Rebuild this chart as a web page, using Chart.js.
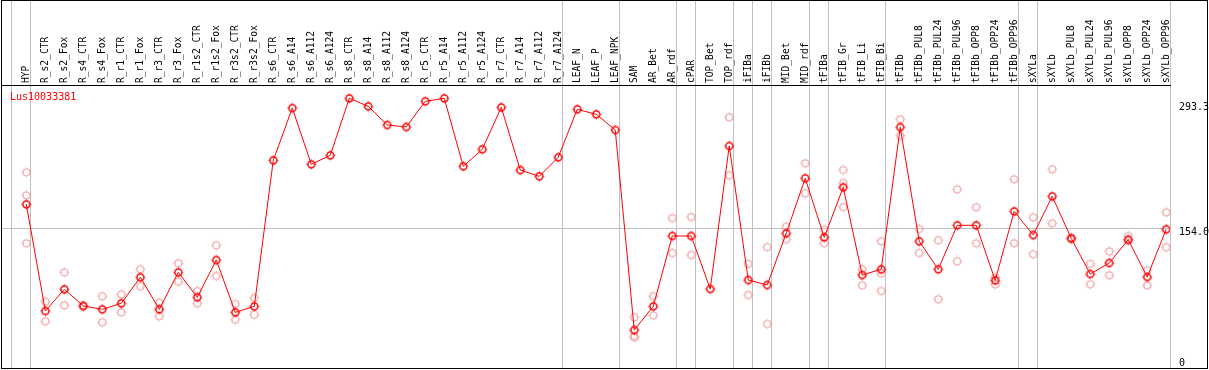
<!DOCTYPE html>
<html><head><meta charset="utf-8">
<script src="https://cdn.jsdelivr.net/npm/chart.js@4.4.1/dist/chart.umd.min.js"></script>
<style>
html,body{margin:0;padding:0;background:#fff;overflow:hidden}
#wrap{position:relative;width:1209px;height:370px}
#frame{position:absolute;left:1px;top:0;width:1205px;height:367px;border:1px solid #000;pointer-events:none}
#gene{position:absolute;left:10px;top:91px;font:10px "DejaVu Sans Mono",monospace;color:#f00}
</style></head><body>
<div id="wrap"><canvas id="c" width="1209" height="370"></canvas><div id="frame"></div><div id="gene">Lus10033381</div></div>
<script>
const categories=["HYP","R_s2_CTR","R_s2_Fox","R_s4_CTR","R_s4_Fox","R_r1_CTR","R_r1_Fox","R_r3_CTR","R_r3_Fox","R_r1s2_CTR","R_r1s2_Fox","R_r3s2_CTR","R_r3s2_Fox","R_s6_CTR","R_s6_A14","R_s6_A112","R_s6_A124","R_s8_CTR","R_s8_A14","R_s8_A112","R_s8_A124","R_r5_CTR","R_r5_A14","R_r5_A112","R_r5_A124","R_r7_CTR","R_r7_A14","R_r7_A112","R_r7_A124","LEAF_N","LEAF_P","LEAF_NPK","SAM","AR_Bet","AR_rdf","cPAR","TOP_Bet","TOP_rdf","iFIBa","iFIBb","MID_Bet","MID_rdf","tFIBa","tFIB_Gr","tFIB_Li","tFIB_Bi","tFIBb","tFIBb_PUL8","tFIBb_PUL24","tFIBb_PUL96","tFIBb_OPP8","tFIBb_OPP24","tFIBb_OPP96","sXYLa","sXYLb","sXYLb_PUL8","sXYLb_PUL24","sXYLb_PUL96","sXYLb_OPP8","sXYLb_OPP24","sXYLb_OPP96"]

// mean expression (red line)
const means=[180.4,61.5,85.7,67.1,63.4,70.1,99.1,63.4,104.6,76.8,118.3,60.0,66.7,229.4,287.7,225.0,235.0,298.5,289.6,268.8,266.6,295.2,298.5,222.8,241.7,288.5,218.6,211.6,232.8,286.3,280.7,263.2,40.3,66.7,145.1,145.1,86.0,245.4,96.0,90.5,148.1,209.4,143.6,199.4,101.6,108.0,266.3,139.2,108.0,157.0,157.0,95.7,172.6,146.2,189.3,142.5,102.7,115.0,141.0,99.4,152.6]

// individual replicates (pale circles)
const rep1=[216.1,71.9,104.6,67.9,77.9,80.1,108.0,70.8,114.7,83.8,134.7,69.3,76.0,null,null,null,null,null,null,null,null,null,null,null,null,null,null,null,null,null,null,null,54.5,77.9,165.1,166.3,null,277.4,113.9,132.8,155.4,226.1,152.1,218.6,108.0,139.2,275.1,152.9,140.3,197.1,177.1,99.1,208.3,165.9,219.4,143.4,113.9,128.0,145.1,106.9,171.5]
const rep2=[190.4,50.0,67.9,66.3,48.9,60.0,89.0,55.6,94.2,70.1,100.5,51.8,57.4,null,null,null,null,null,null,null,null,null,null,null,null,null,null,null,null,null,null,null,33.6,56.7,126.1,123.9,null,212.7,79.3,47.0,141.4,192.7,137.0,204.2,90.1,103.5,256.9,126.1,74.5,116.9,137.0,91.3,137.0,124.7,159.2,141.2,91.3,101.3,139.8,90.1,132.5]
const rep3=[136.9,null,null,null,null,null,null,null,null,null,null,null,null,null,null,null,null,null,null,null,null,null,null,null,null,null,null,null,null,null,null,null,32.2,null,null,null,null,null,null,null,null,null,null,177.4,null,83.8,null,null,null,null,null,null,null,null,null,null,null,null,null,null,null]

// last category of each group (gray separators)
const groupEnds=[-1,0,28,31,34,35,37,38,39,41,42,45,52,53,60]
const yTicks=[293.3,154.0,0]

function marker(color,lw){
 const c=document.createElement("canvas")
 c.width=13;c.height=13
 const g=c.getContext("2d")
 g.strokeStyle=color;g.lineWidth=lw
 g.beginPath();g.arc(6.5,6.5,3.5,0,Math.PI*2);g.stroke()
 g.lineWidth=1
 g.beginPath()
 g.moveTo(6.5,1.6);g.lineTo(6.5,2.6)
 g.moveTo(6.5,10.4);g.lineTo(6.5,11.4)
 g.moveTo(1.6,6.5);g.lineTo(2.6,6.5)
 g.moveTo(10.4,6.5);g.lineTo(11.4,6.5)
 g.stroke()
 return c
}

const toXY=arr=>arr.map((v,i)=>({x:i,y:v}))

const yLabels={
 id:"yLabels",
 afterDraw(chart){
  const {ctx,chartArea,scales:{y}}=chart
  ctx.save()
  ctx.font='10px "DejaVu Sans Mono"'
  ctx.fillStyle="#000"
  ctx.textBaseline="top"
  ctx.textAlign="left"
  yTicks.forEach(v=>{
   const py=Math.min(y.getPixelForValue(v)-1,chartArea.bottom-10)
   ctx.fillText(v===0?"0":v.toFixed(1),chartArea.right+9,py)
  })
  ctx.restore()
 }
}

Chart.defaults.font.family='"DejaVu Sans Mono", monospace'
Chart.defaults.font.size=10
Chart.defaults.color="#000"

const pale="#f0a0a0"
const repSet=(d)=>({data:toXY(d),showLine:false,pointStyle:marker(pale,1.2),pointRadius:4,borderColor:pale,backgroundColor:pale})

new Chart(document.getElementById("c"),{
 type:"line",
 data:{
  datasets:[{
   data:toXY(means),
   borderColor:"#ff0000",
   borderWidth:1,
   tension:0,
   pointStyle:marker("#ff0000",1.5),
   pointRadius:4,
   fill:false
  },repSet(rep1),repSet(rep2),repSet(rep3)]
 },
 options:{
  responsive:false,
  animation:false,
  devicePixelRatio:1,
  layout:{autoPadding:false,padding:{left:2,right:39,top:0,bottom:2}},
  plugins:{legend:{display:false},tooltip:{enabled:false}},
  scales:{
   x:{
    type:"linear",position:"top",weight:1,
    min:-1.28,max:60.2,
    afterBuildTicks:s=>{s.ticks=categories.map((c,i)=>({value:i}))},
    afterFit:s=>{s.height=85;s.paddingLeft=0;s.paddingRight=0},
    ticks:{autoSkip:false,minRotation:90,maxRotation:90,padding:2,labelOffset:12,font:{size:9.6},callback:v=>categories[v]},
    grid:{display:false,drawTicks:false},
    border:{display:true,color:"#000",width:1}
   },
   xs:{
    type:"linear",position:"top",weight:0,
    min:-1.28,max:60.2,
    afterBuildTicks:s=>{s.ticks=groupEnds.map(e=>({value:e+0.2}))},
    afterFit:s=>{s.height=0;s.paddingLeft=0;s.paddingRight=0},
    ticks:{display:false},
    grid:{color:"#c0c0c0",lineWidth:1,drawTicks:true,tickLength:85},
    border:{display:false}
   },
   y:{
    position:"right",
    min:-2.02,max:313.37,
    afterBuildTicks:s=>{s.ticks=yTicks.map(v=>({value:v}))},
    afterFit:s=>{s.width=0},
    ticks:{display:false},
    grid:{color:c=>c.tick&&c.tick.value===154?"#c0c0c0":"rgba(0,0,0,0)",drawTicks:false},
    border:{display:false}
   }
  }
 },
 plugins:[yLabels]
})
</script>
</body></html>
